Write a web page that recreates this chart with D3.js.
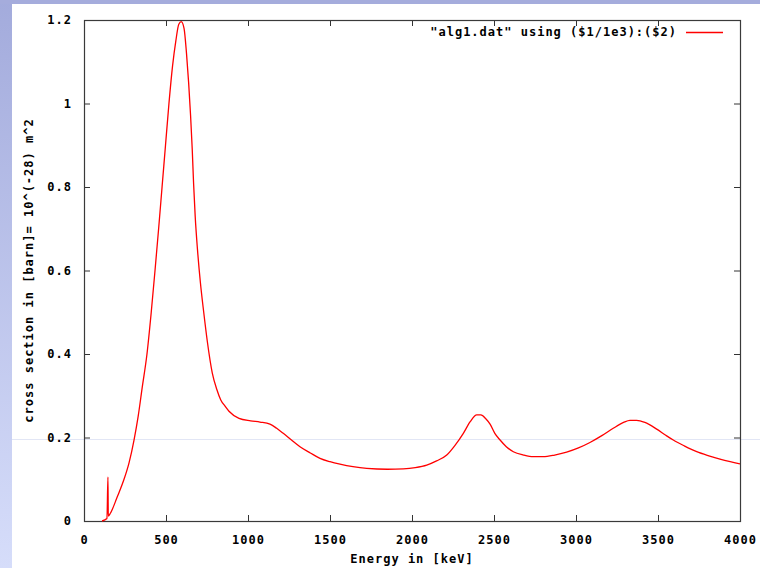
<!DOCTYPE html>
<html lang="en">
<head>
  <meta charset="UTF-8">
  <title>alg1.dat cross section</title>
  <style>
    body { margin: 0; background: #fff; overflow: hidden; }
    svg { display: block; }
    .tick text, .lbl { font-family: 'DejaVu Sans Mono', monospace; font-weight: bold; font-size: 12px; letter-spacing: 1px; fill: #000; }
  </style>
  <script src="https://d3js.org/d3.v7.min.js"></script>
</head>
<body>
  <div id="chart"></div>
  <script>
    // energy in keV, cross section in barn
    const energy = [110, 140, 146, 148, 160, 203, 244, 275, 305, 330, 355, 384, 410, 433, 455, 476, 497, 518, 540, 560, 578, 593, 610, 625, 638, 650, 660, 668, 678, 692, 710, 730, 752, 782, 810, 834, 860, 884, 945, 1016, 1073, 1134, 1175, 1215, 1265, 1317, 1380, 1439, 1500, 1561, 1640, 1724, 1850, 1947, 2020, 2090, 2150, 2212, 2260, 2313, 2355, 2395, 2420, 2450, 2476, 2505, 2537, 2575, 2618, 2680, 2740, 2800, 2870, 2943, 3015, 3085, 3160, 3227, 3290, 3329, 3370, 3420, 3492, 3545, 3593, 3660, 3736, 3810, 3878, 3940, 4000];
    const sigma  = [0, 0.006, 0.105, 0.012, 0.018, 0.058, 0.100, 0.140, 0.194, 0.250, 0.320, 0.400, 0.500, 0.600, 0.700, 0.800, 0.900, 1.000, 1.090, 1.150, 1.190, 1.196, 1.180, 1.120, 1.050, 0.970, 0.890, 0.810, 0.730, 0.650, 0.570, 0.500, 0.430, 0.355, 0.315, 0.290, 0.275, 0.263, 0.246, 0.240, 0.237, 0.232, 0.222, 0.210, 0.194, 0.178, 0.163, 0.150, 0.142, 0.136, 0.130, 0.126, 0.124, 0.125, 0.128, 0.134, 0.144, 0.158, 0.180, 0.210, 0.238, 0.254, 0.254, 0.245, 0.232, 0.210, 0.194, 0.178, 0.166, 0.158, 0.154, 0.154, 0.158, 0.165, 0.175, 0.188, 0.205, 0.222, 0.236, 0.241, 0.241, 0.236, 0.220, 0.206, 0.194, 0.180, 0.166, 0.156, 0.148, 0.142, 0.137];
    const xTicks = [0, 500, 1000, 1500, 2000, 2500, 3000, 3500, 4000];
    const yTicks = [0, 0.2, 0.4, 0.6, 0.8, 1, 1.2];
    const legendText = '"alg1.dat" using ($1/1e3):($2)';

    const W = 760, H = 568;
    const M = { top: 20, right: 20, bottom: 47, left: 84 };

    const svg = d3.select('#chart').append('svg')
      .attr('width', W).attr('height', H);

    // slide background strips
    const grad = svg.append('defs').append('linearGradient')
      .attr('id', 'side').attr('x1', 0).attr('y1', 0).attr('x2', 0).attr('y2', 1);
    grad.append('stop').attr('offset', '0%').attr('stop-color', '#a3abdc');
    grad.append('stop').attr('offset', '100%').attr('stop-color', '#d6ddfa');
    svg.append('rect').attr('x', 0).attr('y', 0).attr('width', 12).attr('height', H).attr('fill', 'url(#side)');
    svg.append('rect').attr('x', 0).attr('y', 0).attr('width', W).attr('height', 4).attr('fill', '#a5acdc');
    svg.append('line').attr('x1', 12).attr('x2', W).attr('y1', 439.5).attr('y2', 439.5)
      .attr('stroke', '#e2e6f5').attr('stroke-width', 1);

    const x = d3.scaleLinear().domain([0, 4000]).range([M.left, W - M.right]);
    const y = d3.scaleLinear().domain([0, 1.2]).range([H - M.bottom, M.top]);

    const plot = svg.append('g');

    // axes with inward ticks on all four sides
    const axB = plot.append('g').attr('transform', `translate(0,${y(0)})`)
      .call(d3.axisBottom(x).tickValues(xTicks).tickSize(-6).tickPadding(14).tickFormat(d3.format('d')));
    const axT = plot.append('g').attr('transform', `translate(0,${y(1.2)})`)
      .call(d3.axisTop(x).tickValues(xTicks).tickSize(-6).tickFormat(''));
    const axL = plot.append('g').attr('transform', `translate(${x(0)},0)`)
      .call(d3.axisLeft(y).tickValues(yTicks).tickSize(-6).tickPadding(14).tickFormat(d => d === 0 ? '0' : d3.format('.1~f')(d)));
    const axR = plot.append('g').attr('transform', `translate(${x(4000)},0)`)
      .call(d3.axisRight(y).tickValues(yTicks).tickSize(-6).tickFormat(''));
    [axB, axT, axL, axR].forEach(a => {
      a.select('.domain').remove();
      a.selectAll('.tick line').attr('stroke', '#333');
    });
    axL.selectAll('.tick text').attr('dx', '2px');

    plot.append('rect')
      .attr('x', x(0) + 0.5).attr('y', y(1.2) + 0.5)
      .attr('width', x(4000) - x(0)).attr('height', y(0) - y(1.2))
      .attr('fill', 'none').attr('stroke', '#3a3a3a').attr('stroke-width', 1.2);

    const line = d3.line()
      .x((d, i) => x(energy[i]))
      .y(d => y(d))
      .curve(d3.curveMonotoneX);

    plot.append('path')
      .datum(sigma)
      .attr('d', line)
      .attr('fill', 'none')
      .attr('stroke', '#ff0000')
      .attr('stroke-width', 1.3);

    // legend
    svg.append('text').attr('class', 'lbl')
      .attr('x', 677).attr('y', 36).attr('text-anchor', 'end')
      .text(legendText);
    svg.append('line').attr('x1', 686).attr('x2', 723).attr('y1', 32.5).attr('y2', 32.5)
      .attr('stroke', '#ff0000').attr('stroke-width', 1.3);

    // axis titles
    svg.append('text').attr('class', 'lbl')
      .attr('x', (x(0) + x(4000)) / 2).attr('y', 563).attr('text-anchor', 'middle')
      .text('Energy in [keV]');
    svg.append('text').attr('class', 'lbl')
      .attr('transform', `translate(33,${(y(0) + y(1.2)) / 2}) rotate(-90)`)
      .attr('text-anchor', 'middle')
      .text('cross section in [barn]= 10^(-28) m^2');
  </script>
</body>
</html>
